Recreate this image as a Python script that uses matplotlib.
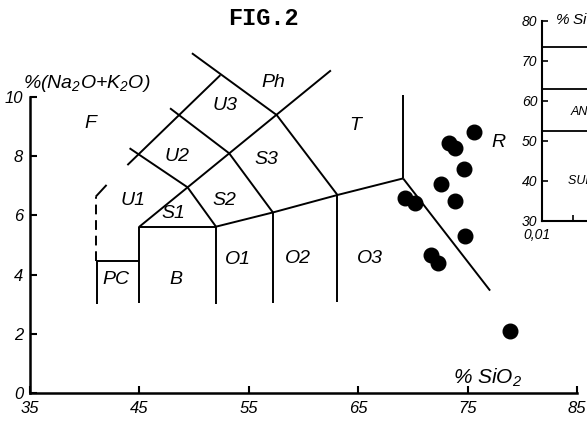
import numpy as np
import matplotlib.pyplot as plt

plt.rcParams['font.family'] = ['Liberation Sans', 'DejaVu Sans']
plt.rcParams['font.style'] = 'italic'
plt.rcParams['mathtext.default'] = 'regular'

# analysed samples, wt%
sio2 = [75.6, 73.3, 73.8, 74.7, 72.6, 73.85, 69.3, 70.2, 74.8, 71.65, 72.3, 78.9]
alkali = [8.81, 8.43, 8.27, 7.57, 7.06, 6.49, 6.6, 6.41, 5.30, 4.66, 4.38, 2.1]

x_ticks = [35, 45, 55, 65, 75, 85]
y_ticks = [0, 2, 4, 6, 8, 10]

# TAS field boundaries (x list, y list)
bounds = [
    ([45, 45, 52, 52], [3.05, 5.62, 5.62, 3.0]),
    ([41.1, 41.1, 45], [3.0, 4.47, 4.47]),
    ([41.0, 42.0], [6.63, 7.03]),
    ([52, 57.2, 63.1, 69.1], [5.62, 6.1, 6.69, 7.25]),
    ([57.2, 57.2], [6.1, 3.05]),
    ([63.1, 63.1], [6.69, 3.08]),
    ([69.1, 69.1], [7.25, 10.07]),
    ([69.1, 77.05], [7.25, 3.46]),
    ([45, 62.5], [5.62, 10.9]),
    ([43.9, 52.4], [7.7, 10.74]),
    ([44.1, 49.4, 52], [8.27, 6.95, 5.62]),
    ([47.8, 53.2, 57.2], [9.62, 8.1, 6.1]),
    ([49.8, 57.55, 63.1], [11.48, 9.39, 6.69]),
]
dashed = ([41.0, 41.0], [4.47, 6.63])

fields = ['F', 'U3', 'Ph', 'U2', 'S3', 'T', 'R', 'U1', 'S1', 'S2',
          'PC', 'B', 'O1', 'O2', 'O3']
field_x = [40.5, 52.8, 57.2, 48.4, 56.6, 64.7, 77.8, 44.4, 48.1, 52.8,
           42.85, 48.35, 54.0, 59.5, 66.1]
field_y = [9.1, 9.7, 10.5, 8.0, 7.9, 9.05, 8.45, 6.5, 6.05, 6.5,
           3.82, 3.82, 4.5, 4.55, 4.55]

# inset: SiO2 classes
inset_ticks = [30, 40, 50, 60, 70, 80]
inset_lines = [73.5, 62.8, 52.3]

fig = plt.figure(figsize=(5.87, 4.22), dpi=100)
ax = fig.add_axes([0.0511, 0.0687, 0.932, 0.7014])

for xs, ys in bounds:
    ax.plot(xs, ys, color='black', lw=1.4, clip_on=False, solid_capstyle='butt')
ax.plot(dashed[0], dashed[1], color='black', lw=1.4, dashes=(5, 3))

ax.plot(sio2, alkali, 'o', color='black', ms=10.5, clip_on=False)

for name, fx, fy in zip(fields, field_x, field_y):
    ax.text(fx, fy, name, fontsize=14, ha='center', va='center')

ax.set_xlim(35, 85)
ax.set_ylim(0, 10)
ax.set_xticks(x_ticks)
ax.set_yticks(y_ticks)
ax.tick_params(direction='in', length=5, width=1.5, labelsize=12)
ax.tick_params(axis='x', pad=6)
ax.tick_params(axis='y', pad=5)
for s in ['top', 'right']:
    ax.spines[s].set_visible(False)
for s in ['left', 'bottom']:
    ax.spines[s].set_linewidth(1.8)

ax.text(34.36, 10.3, '%(Na$_2$O+K$_2$O)', fontsize=14, va='baseline', ha='left')
ax.text(76.8, 0.5, '% SiO$_2$', fontsize=15, ha='center', va='center')

fig.text(0.448, 0.957, 'FIG.2', family='Liberation Mono', weight='bold',
         style='normal', fontsize=17, ha='center', va='center')

# inset, cut by the page edge
ax2 = fig.add_axes([0.9228, 0.477, 0.2, 0.474])
for v in inset_lines:
    ax2.axhline(v, color='black', lw=1.3)
ax2.set_ylim(30, 80)
ax2.set_xlim(0, 1)
ax2.set_yticks(inset_ticks)
ax2.set_xticks([0, 0.27])
ax2.set_xticklabels(['', ''])
ax2.tick_params(direction='in', length=4, width=1.2, labelsize=10, pad=3)
for s in ['top', 'right']:
    ax2.spines[s].set_visible(False)
for s in ['left', 'bottom']:
    ax2.spines[s].set_linewidth(1.5)
ax2.text(-0.04, -0.07, '0,01', transform=ax2.transAxes, fontsize=10,
         ha='center', va='center')
ax2.text(0.115, 1.0, '% SiO$_2$', transform=ax2.transAxes, fontsize=11, va='center')
ax2.text(0.38, 69.5, 'RHYOLITE', fontsize=9, va='center')
ax2.text(0.245, 57.2, 'ANDESITE', fontsize=9, va='center')
ax2.text(0.22, 40.0, 'SUBALKALINE BASALT', fontsize=9, va='center')

fig.savefig('out.png', dpi=100)
